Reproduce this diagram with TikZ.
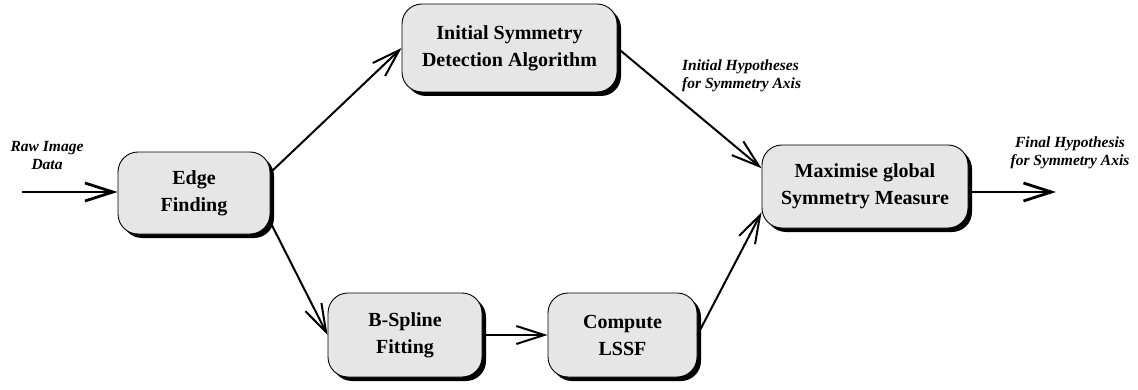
\documentclass[tikz,border=0pt]{standalone}
\usepackage{fontspec}
\setmainfont{Liberation Serif}
\usepackage{tikz}
\usetikzlibrary{arrows.meta,positioning,calc,shadows}
\usepackage{xcolor}
\definecolor{BoxFill}{HTML}{E6E6E6}

\begin{document}
\begin{tikzpicture}[x=1pt,y=1pt,
  stage/.style={rectangle,rounded corners=20pt,draw=black,line width=0.9pt,fill=BoxFill,
    drop shadow={shadow xshift=4pt,shadow yshift=-4pt,fill=black,opacity=1},
    align=center,inner sep=0pt,font=\fontsize{20}{27}\selectfont\bfseries},
  flow/.style={-{Straight Barb[length=28pt,width=18pt]},line width=2pt},
  ioflow/.style={flow,line width=2.8pt},
  note/.style={align=center,inner sep=0pt,font=\fontsize{15.5}{18}\selectfont\bfseries\itshape}]
  \useasboundingbox (0,0) rectangle (1138,389);
  % processing stages
  \node[stage,minimum width=152pt,minimum height=82pt] (edge) at (194,196) {Edge\\Finding};
  \node[stage,minimum width=215pt,minimum height=88pt] (init) at (509.5,341) {Initial Symmetry\\Detection Algorithm};
  \node[stage,minimum width=154pt,minimum height=84pt] (bspl) at (405,54) {B-Spline\\Fitting};
  \node[stage,minimum width=149pt,minimum height=84pt] (lssf) at (622.5,54) {Compute\\LSSF};
  \node[stage,minimum width=206pt,minimum height=83pt] (maxsym) at (865,202.5) {Maximise global\\Symmetry Measure};
  % input and output ends
  \coordinate (rawin) at (22,197);
  \coordinate (finalout) at (1056,197);
  \node[note] (rawlbl) at (47,233) {Raw Image\\Data};
  \node[note,align=left,anchor=west] (hyplbl) at (682,313) {Initial Hypotheses\\for Symmetry Axis};
  \node[note] (finallbl) at (1070,236) {Final Hypothesis\\for Symmetry Axis};
  % data flow
  \draw[ioflow] (rawin) -- (rawin -| edge.west);
  \draw[flow] (edge.15) -- (init.west);
  \draw[flow] (edge.-21) -- (bspl.west);
  \draw[flow] (bspl.east) -- (lssf.west);
  \draw[flow] (init.east) -- (maxsym.170);
  \draw[flow] (lssf.east) -- (maxsym.194);
  \draw[ioflow] (finalout -| maxsym.east) -- (finalout);
\end{tikzpicture}
\end{document}
